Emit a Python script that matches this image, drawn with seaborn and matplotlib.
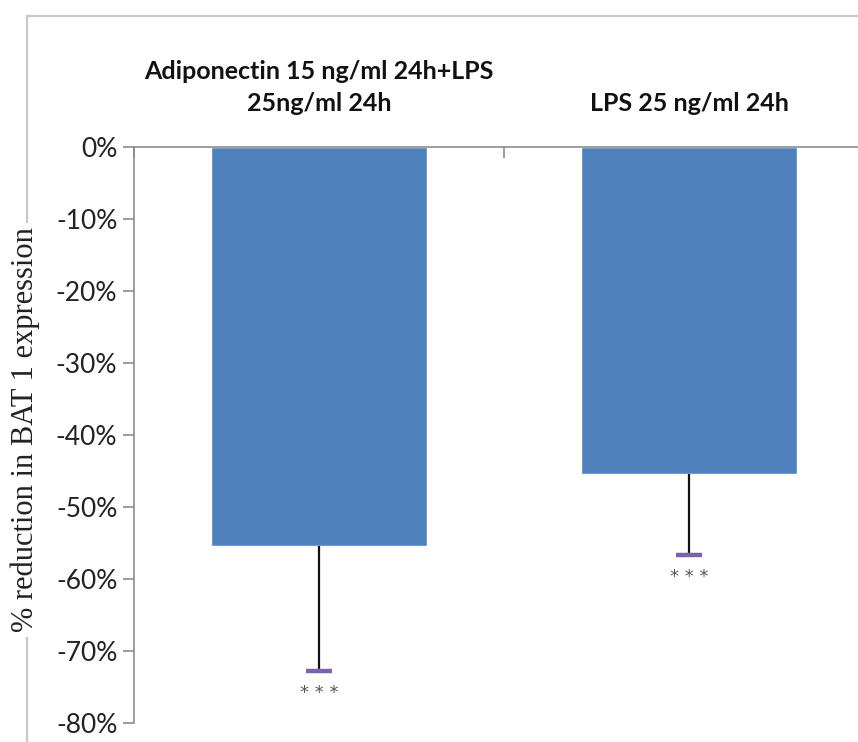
import matplotlib
matplotlib.use("Agg")
import matplotlib.pyplot as plt
from matplotlib.patches import Rectangle
from matplotlib.ticker import PercentFormatter, FixedLocator
import seaborn as sns
import pandas as pd

# Treatment groups and mean change in BAT 1 expression (fraction), with lower SE
categories = ["Adiponectin 15 ng/ml 24h+LPS\n25ng/ml 24h", "LPS 25 ng/ml 24h"]
reduction = [-0.554, -0.454]
error_low = [0.174, 0.112]
significance = ["* * *", "* * *"]

df = pd.DataFrame({"group": categories, "reduction": reduction})

sns.set_theme(style="white")
plt.rcParams["font.family"] = ["Lato", "DejaVu Sans"]
plt.rcParams["axes.unicode_minus"] = False

W, H = 858, 742
fig = plt.figure(figsize=(W / 100, H / 100), dpi=100)
fig.patch.set_facecolor("white")

# outer chart frame
fig.add_artist(Rectangle((27 / W, -0.05), 1.2, 1 - 16 / H + 0.05,
                         transform=fig.transFigure, fill=False,
                         edgecolor="#c8c8c8", linewidth=1.6, zorder=0))

ax = fig.add_axes([134 / W, (H - 723) / H, 740 / W, 576 / H])
ax.set_facecolor("none")

sns.barplot(data=df, x="group", y="reduction", color="#4F81BD",
            saturation=1, width=0.585, ax=ax, zorder=2)

xs = list(range(len(categories)))
lower = [r - e for r, e in zip(reduction, error_low)]
ax.errorbar(xs, reduction, yerr=[error_low, [0] * len(xs)], fmt="none",
            ecolor="#111111", elinewidth=1.6, capsize=0, zorder=3)
ax.plot(xs, lower, linestyle="none", marker="_", markersize=19,
        markeredgewidth=3.2, color="#7B62AA", zorder=4)
for x, y, s in zip(xs, lower, significance):
    ax.annotate(s, (x, y), xytext=(0, -16), textcoords="offset points",
                ha="center", va="center", fontsize=13, color="#555555",
                family="DejaVu Sans")

ax.set_xlim(-0.5, 1.5)
ax.set_ylim(-0.8, 0)
ax.yaxis.set_major_formatter(PercentFormatter(1.0, decimals=0))
ax.set_yticks([0, -0.1, -0.2, -0.3, -0.4, -0.5, -0.6, -0.7, -0.8])

# category labels above the plot, boundary ticks on the zero line
ax.xaxis.tick_top()
ax.xaxis.set_label_position("top")
ax.set_xlabel("")
ax.xaxis.set_minor_locator(FixedLocator([-0.5, 0.5, 1.5]))
ax.tick_params(axis="x", which="major", length=0, pad=23,
               labelsize=18)
for lbl in ax.get_xticklabels():
    lbl.set_fontweight("bold")
    lbl.set_color("#111111")
    lbl.set_linespacing(1.5)
ax.tick_params(axis="x", which="minor", direction="in", length=8,
               width=1.2, color="#8c8c8c", top=True, bottom=False)
ax.tick_params(axis="y", direction="out", length=8, width=1.2,
               color="#8c8c8c", labelsize=19, labelcolor="#222222",
               left=True, pad=4)

for side in ["right", "bottom"]:
    ax.spines[side].set_visible(False)
for side in ["left", "top"]:
    ax.spines[side].set_color("#8c8c8c")
    ax.spines[side].set_linewidth(1.2)

ax.set_ylabel("")
fig.text(25 / W, 1 - 430 / H, "% reduction in BAT 1 expression",
         rotation=90, ha="center", va="center", fontsize=22,
         family="Liberation Serif", color="#222222",
         bbox=dict(facecolor="white", edgecolor="none", pad=3))

fig.savefig("out.png", dpi=100, facecolor="white")
